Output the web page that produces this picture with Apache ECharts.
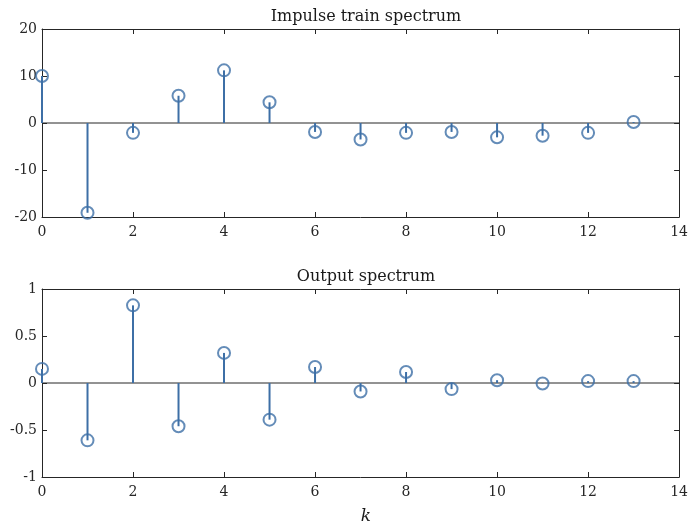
<!DOCTYPE html>
<html>
<head>
<meta charset="utf-8">
<script src="https://cdn.jsdelivr.net/npm/echarts@6/dist/echarts.min.js"></script>
<style>
  html, body { margin: 0; padding: 0; background: #fff; }
  #chart { width: 691px; height: 525px; }
</style>
</head>
<body>
<div id="chart"></div>
<script>
// Spectral bin index
const k = [0, 1, 2, 3, 4, 5, 6, 7, 8, 9, 10, 11, 12, 13];
// Impulse train spectrum values
const impulseSpectrum = [10.0, -19.1, -2.1, 5.8, 11.2, 4.4, -1.9, -3.5, -2.1, -1.9, -3.05, -2.7, -2.1, 0.2];
// Output spectrum values
const outputSpectrum = [0.15, -0.61, 0.826, -0.46, 0.32, -0.39, 0.17, -0.09, 0.117, -0.065, 0.03, -0.005, 0.02, 0.02];
// Axis ranges and tick steps
const xRange = [0, 14], xStep = 2;
const topYRange = [-20, 20], topYStep = 10;
const botYRange = [-1, 1], botYStep = 0.5;

const stemColor = '#3d6fa6';
const axisColor = '#262626';
const font = 'DejaVu Serif';

const pairs = vals => k.map((x, i) => [x, vals[i]]);

function axesFor(gridIndex, yRange, yStep) {
  const tick = { show: true, inside: true, length: 5, lineStyle: { color: axisColor } };
  const line = { show: true, onZero: false, lineStyle: { color: axisColor, width: 1 } };
  const label = { color: '#262626', fontFamily: font, fontSize: 14 };
  return {
    x: [
      { type: 'value', gridIndex, min: xRange[0], max: xRange[1], interval: xStep, position: 'bottom',
        axisLine: line, axisTick: tick, axisLabel: Object.assign({ margin: 8 }, label), splitLine: { show: false } },
      { type: 'value', gridIndex, min: xRange[0], max: xRange[1], interval: xStep, position: 'top',
        axisLine: line, axisTick: tick, axisLabel: { show: false }, splitLine: { show: false } }
    ],
    y: [
      { type: 'value', gridIndex, min: yRange[0], max: yRange[1], interval: yStep, position: 'left',
        axisLine: line, axisTick: tick, axisLabel: Object.assign({ margin: 5 }, label), splitLine: { show: false } },
      { type: 'value', gridIndex, min: yRange[0], max: yRange[1], interval: yStep, position: 'right',
        axisLine: line, axisTick: tick, axisLabel: { show: false }, splitLine: { show: false } }
    ]
  };
}

const a0 = axesFor(0, topYRange, topYStep);
const a1 = axesFor(1, botYRange, botYStep);

function stems(vals, xi, yi) {
  return {
    type: 'custom',
    xAxisIndex: xi, yAxisIndex: yi,
    data: pairs(vals),
    renderItem: (params, api) => {
      const p0 = api.coord([api.value(0), 0]);
      const p1 = api.coord([api.value(0), api.value(1)]);
      return { type: 'line', shape: { x1: p0[0], y1: p0[1], x2: p1[0], y2: p1[1] },
               style: { stroke: stemColor, lineWidth: 2 } };
    },
    z: 3
  };
}

function zeroLine(xi, yi) {
  return {
    type: 'line', xAxisIndex: xi, yAxisIndex: yi,
    data: [[xRange[0], 0], [xRange[1], 0]],
    symbol: 'none', lineStyle: { color: axisColor, width: 1 }, silent: true, z: 2
  };
}

function heads(vals, xi, yi) {
  return {
    type: 'scatter', xAxisIndex: xi, yAxisIndex: yi,
    data: pairs(vals), symbol: 'circle', symbolSize: 12,
    itemStyle: { color: 'rgba(0,0,0,0)', borderColor: stemColor, borderWidth: 2 },
    z: 4
  };
}

const chart = echarts.init(document.getElementById('chart'), null, { renderer: 'canvas' });
chart.setOption({
  animation: false,
  backgroundColor: '#ffffff',
  title: [
    { text: 'Impulse train spectrum', left: 361, top: 4, textAlign: 'center',
      textStyle: { fontFamily: font, fontWeight: 'normal', fontSize: 16, color: '#1a1a1a' } },
    { text: 'Output spectrum', left: 361, top: 264, textAlign: 'center',
      textStyle: { fontFamily: font, fontWeight: 'normal', fontSize: 16, color: '#1a1a1a' } },
    { text: 'k', left: 361, top: 503, textAlign: 'center',
      textStyle: { fontFamily: font, fontStyle: 'italic', fontWeight: 'normal', fontSize: 17, color: '#1a1a1a' } }
  ],
  grid: [
    { left: 42, right: 10, top: 29, bottom: 308 },
    { left: 42, right: 10, top: 289, bottom: 48 }
  ],
  xAxis: [...a0.x, ...a1.x.map(ax => Object.assign({}, ax, { gridIndex: 1 }))],
  yAxis: [...a0.y, ...a1.y.map(ax => Object.assign({}, ax, { gridIndex: 1 }))],
  series: [
    zeroLine(0, 0), stems(impulseSpectrum, 0, 0), heads(impulseSpectrum, 0, 0),
    zeroLine(2, 2), stems(outputSpectrum, 2, 2), heads(outputSpectrum, 2, 2)
  ]
});
</script>
</body>
</html>
